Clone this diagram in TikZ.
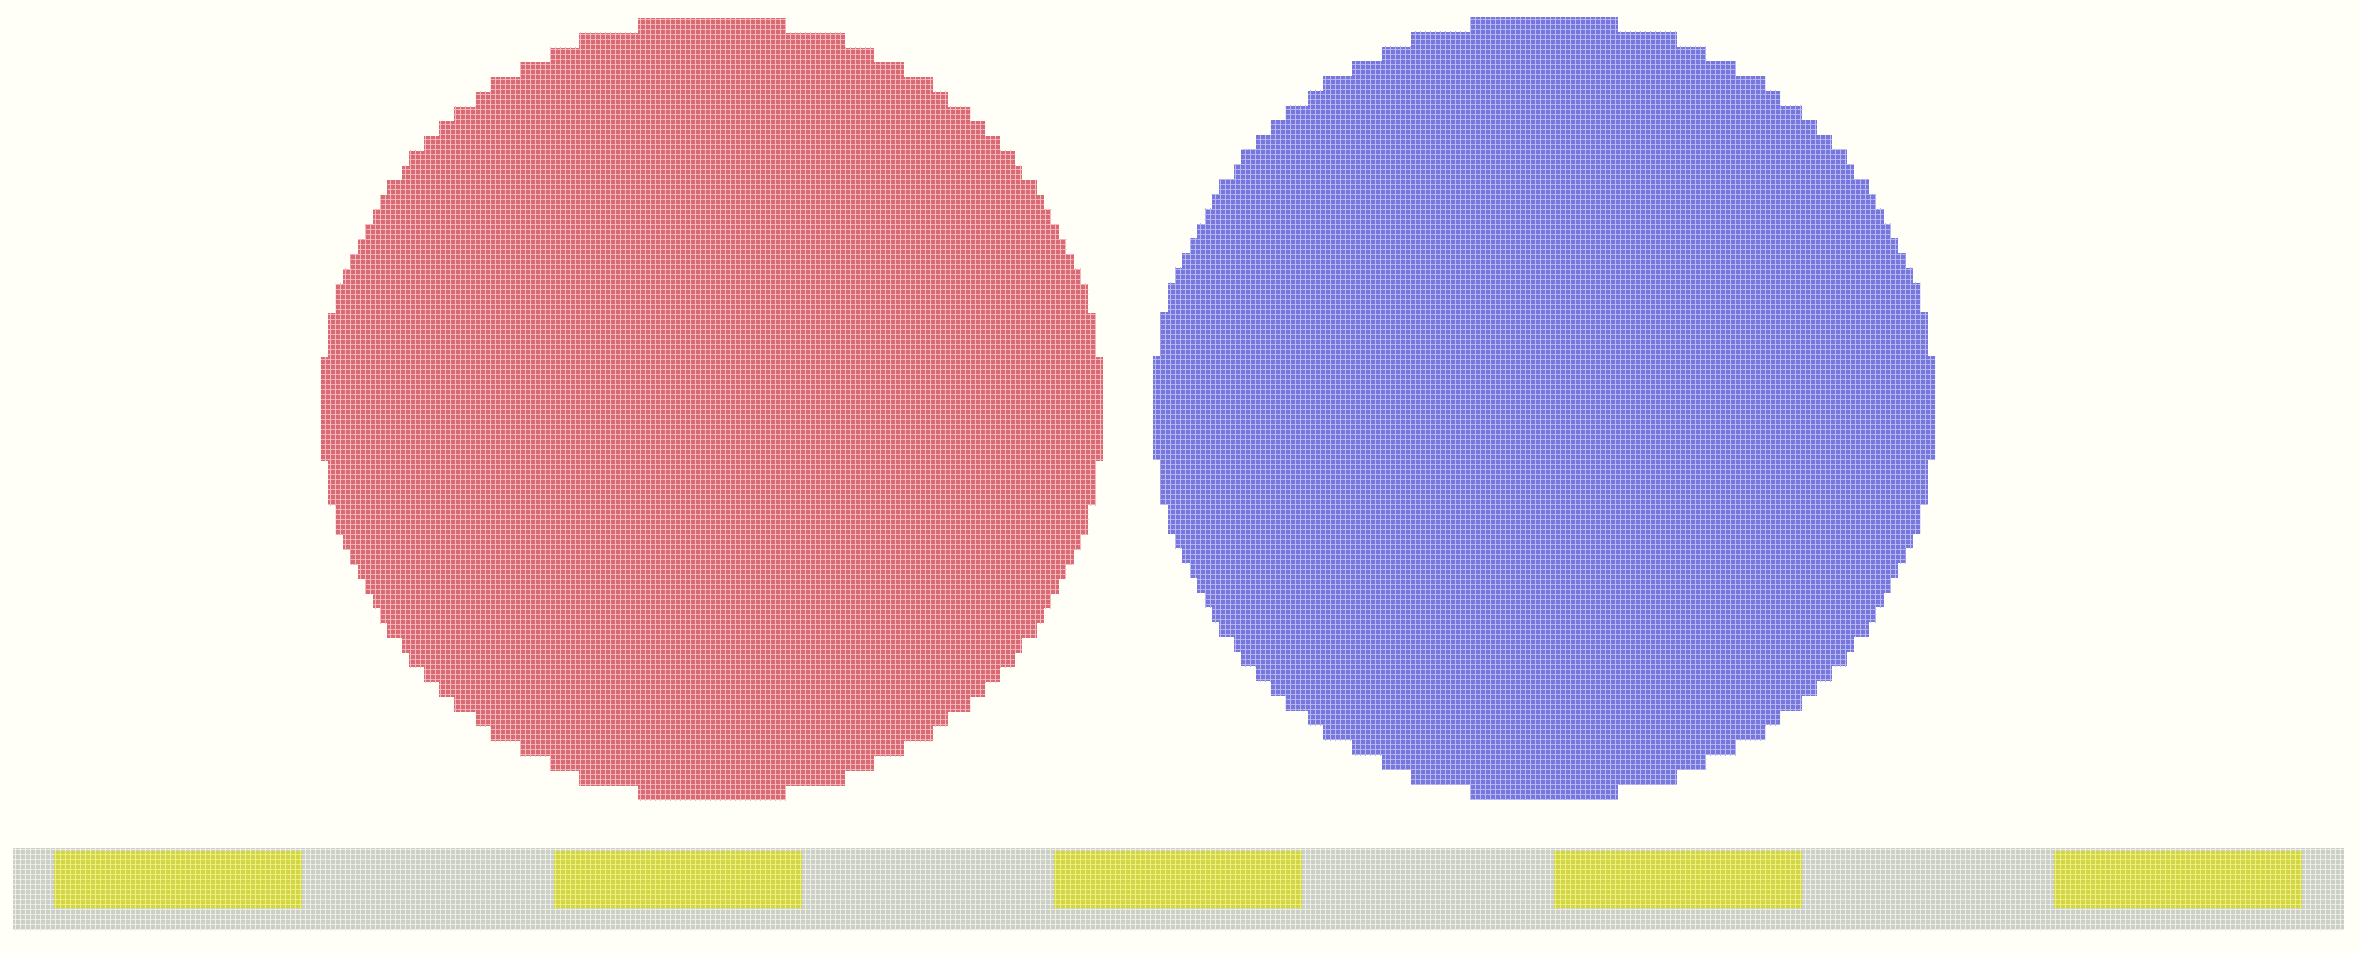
\documentclass[tikz,border=0pt]{standalone}
\usetikzlibrary{patterns.meta}
\definecolor{bgcream}{HTML}{FFFEF7}
\definecolor{redbase}{HTML}{D86A74}
\definecolor{redline}{HTML}{F6B8BD}
\definecolor{bluebase}{HTML}{7676DD}
\definecolor{blueline}{HTML}{B8B8F2}
\definecolor{stripbase}{HTML}{CBCFC5}
\definecolor{stripline}{HTML}{EDEFE7}
\definecolor{yelbase}{HTML}{D3D548}
\definecolor{yelline}{HTML}{EEF080}
\tikzset{
  gridtex/.style={pattern={Hatch[distance=5pt,line width=0.9pt]},pattern color=#1},
}
\def\cs{14.76}
\newcommand\pixdisc[4]{%
  \foreach \k in {0,...,52}{%
    \pgfmathsetmacro\dd{\k+0.5-26.5}%
    \pgfmathsetmacro\hw{round(2*sqrt(max(26.5*26.5-\dd*\dd,0)))/2}%
    \fill[#3] ({#1-\hw*\cs},{#2+\k*\cs}) rectangle ({#1+\hw*\cs},{#2+(\k+1)*\cs});
    \fill[gridtex=#4] ({#1-\hw*\cs},{#2+\k*\cs}) rectangle ({#1+\hw*\cs},{#2+(\k+1)*\cs});
  }%
}
\begin{document}
\begin{tikzpicture}[x=1pt,y=-1pt]
\useasboundingbox (0,0) rectangle (2361,954);
\fill[bgcream] (0,0) rectangle (2361,954);
% red disc
\pixdisc{712}{18}{redbase}{redline}
% blue disc
\pixdisc{1544}{17}{bluebase}{blueline}
% bottom strip
\fill[stripbase] (13,848) rectangle (2344,930);
\fill[gridtex=stripline] (13,848) rectangle (2344,930);
\foreach \i in {0,...,4}{
  \fill[yelbase] ({54+500*\i},851) rectangle ({302+500*\i},908);
  \fill[gridtex=yelline] ({54+500*\i},851) rectangle ({302+500*\i},908);
}
\end{tikzpicture}
\end{document}
